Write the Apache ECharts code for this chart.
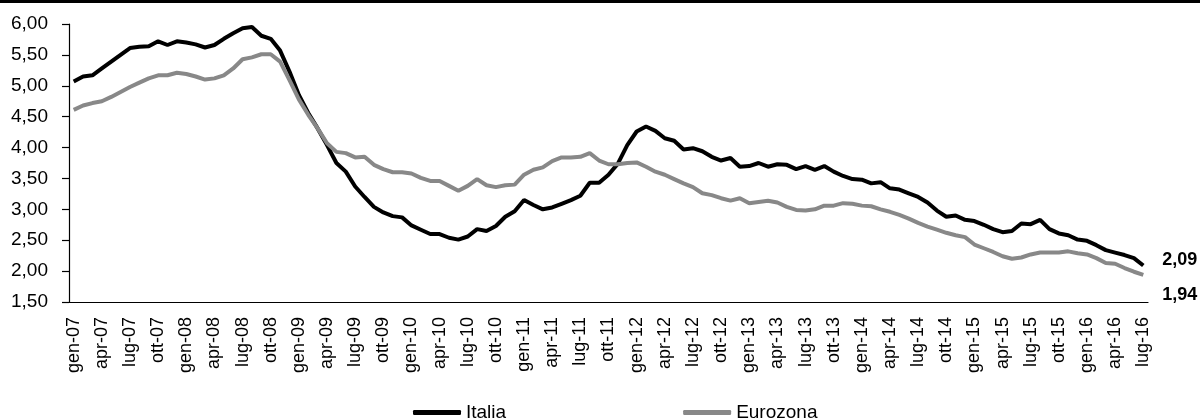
<!DOCTYPE html>
<html>
<head>
<meta charset="utf-8">
<script src="https://cdn.jsdelivr.net/npm/echarts@6/dist/echarts.min.js"></script>
<style>
  html, body { margin: 0; padding: 0; background: #fff; }
  #chart { width: 1200px; height: 420px; }
</style>
</head>
<body>
<div id="chart"></div>
<script>
// mesi e anni per le etichette dell'asse (gen-07 ... lug-16)
var mesi = ["gen", "feb", "mar", "apr", "mag", "giu", "lug", "ago", "set", "ott", "nov", "dic"];
var anni = ["07", "08", "09", "10", "11", "12", "13", "14", "15", "16"];

var italia = [
  5.07, 5.15, 5.17, 5.28, 5.39, 5.50, 5.61, 5.63, 5.64, 5.72, 5.66, 5.72,
  5.70, 5.67, 5.62, 5.66, 5.76, 5.85, 5.93, 5.95, 5.81, 5.76, 5.57, 5.23,
  4.85, 4.56, 4.31, 4.04, 3.75, 3.61, 3.37, 3.20, 3.04, 2.95, 2.89, 2.87,
  2.74, 2.67, 2.60, 2.60, 2.54, 2.51, 2.56, 2.68, 2.65, 2.73, 2.88, 2.97,
  3.15, 3.07, 3.00, 3.03, 3.09, 3.15, 3.22, 3.43, 3.43, 3.56, 3.74, 4.04,
  4.26, 4.34, 4.27, 4.15, 4.11, 3.97, 3.99, 3.94, 3.85, 3.79, 3.83, 3.69,
  3.70, 3.75, 3.69, 3.73, 3.72, 3.65, 3.70, 3.64, 3.70, 3.61, 3.54, 3.49,
  3.48, 3.42, 3.44, 3.34, 3.32, 3.26, 3.20, 3.11, 2.98, 2.88, 2.90, 2.83,
  2.81, 2.75, 2.68, 2.63, 2.65, 2.77, 2.76, 2.83, 2.68, 2.61, 2.58, 2.51,
  2.49, 2.42, 2.34, 2.30, 2.26, 2.21, 2.09
];

var eurozona = [
  4.61, 4.68, 4.72, 4.75, 4.82, 4.90, 4.98, 5.05, 5.12, 5.17, 5.17, 5.21,
  5.19, 5.15, 5.10, 5.12, 5.17, 5.28, 5.43, 5.46, 5.51, 5.51, 5.39, 5.09,
  4.78, 4.53, 4.31, 4.07, 3.93, 3.91, 3.84, 3.85, 3.72, 3.65, 3.60, 3.60,
  3.58, 3.51, 3.46, 3.46, 3.38, 3.30, 3.38, 3.49, 3.39, 3.36, 3.39, 3.40,
  3.56, 3.64, 3.68, 3.78, 3.84, 3.84, 3.85, 3.91, 3.79, 3.73, 3.73, 3.75,
  3.76, 3.69, 3.61, 3.56, 3.49, 3.42, 3.36, 3.26, 3.23, 3.18, 3.14, 3.18,
  3.10, 3.12, 3.14, 3.11, 3.04, 2.99, 2.98, 3.00, 3.06, 3.06, 3.10, 3.09,
  3.06, 3.05, 3.00, 2.96, 2.91, 2.85, 2.78, 2.72, 2.67, 2.62, 2.58, 2.55,
  2.43, 2.37, 2.31, 2.24, 2.20, 2.22, 2.27, 2.30, 2.30, 2.30, 2.32, 2.29,
  2.27, 2.21, 2.13, 2.12, 2.05, 1.99, 1.94
];

var categorie = [];
for (var a = 0; a < anni.length; a++) {
  for (var m = 0; m < 12; m++) {
    if (categorie.length < italia.length) categorie.push(mesi[m] + "-" + anni[a]);
  }
}

function virgola(v, d) {
  return Number(v).toFixed(d).replace(".", ",");
}

var font = "Liberation Sans, Arial, sans-serif";
var chart = echarts.init(document.getElementById("chart"), null, { renderer: "canvas" });

chart.setOption({
  animation: false,
  backgroundColor: "#fff",
  grid: { left: 69, right: 52, top: 24, bottom: 118, containLabel: false },
  graphic: [
    { type: "rect", left: 0, top: 0, shape: { width: 1200, height: 3 }, style: { fill: "#000" } }
  ],
  legend: {
    left: 408,
    top: 398,
    itemWidth: 48,
    itemHeight: 5,
    itemGap: 177,
    icon: "roundRect",
    textStyle: { fontFamily: font, fontSize: 19, color: "#000" },
    data: ["Italia", "Eurozona"]
  },
  xAxis: {
    type: "category",
    data: categorie,
    boundaryGap: true,
    axisLine: { lineStyle: { color: "#000", width: 1.2 } },
    axisTick: { interval: 2, length: 6, lineStyle: { color: "#000", width: 1.2 } },
    axisLabel: {
      interval: 2,
      rotate: 90,
      margin: 15,
      fontFamily: font,
      fontSize: 18,
      color: "#000"
    },
    splitLine: { show: false }
  },
  yAxis: {
    type: "value",
    min: 1.5,
    max: 6,
    interval: 0.5,
    axisLine: { show: true, lineStyle: { color: "#000", width: 1.2 } },
    axisTick: { show: true, length: 7, lineStyle: { color: "#000", width: 1.2 } },
    axisLabel: {
      margin: 21,
      fontFamily: font,
      fontSize: 19,
      color: "#000",
      formatter: function (v) { return virgola(v, 2); }
    },
    splitLine: { show: false }
  },
  series: [
    {
      name: "Italia",
      type: "line",
      data: italia,
      symbol: "none",
      color: "#000",
      lineStyle: { color: "#000", width: 4 },
      endLabel: {
        show: true,
        distance: 19,
        offset: [0, -6],
        fontFamily: font,
        fontSize: 18,
        fontWeight: "bold",
        color: "#000",
        formatter: function (p) { return virgola(p.value, 2); }
      }
    },
    {
      name: "Eurozona",
      type: "line",
      data: eurozona,
      symbol: "none",
      color: "#888888",
      lineStyle: { color: "#888888", width: 4 },
      endLabel: {
        show: true,
        distance: 19,
        offset: [0, 20],
        fontFamily: font,
        fontSize: 18,
        fontWeight: "bold",
        color: "#000",
        formatter: function (p) { return virgola(p.value, 2); }
      }
    }
  ]
});
</script>
</body>
</html>
